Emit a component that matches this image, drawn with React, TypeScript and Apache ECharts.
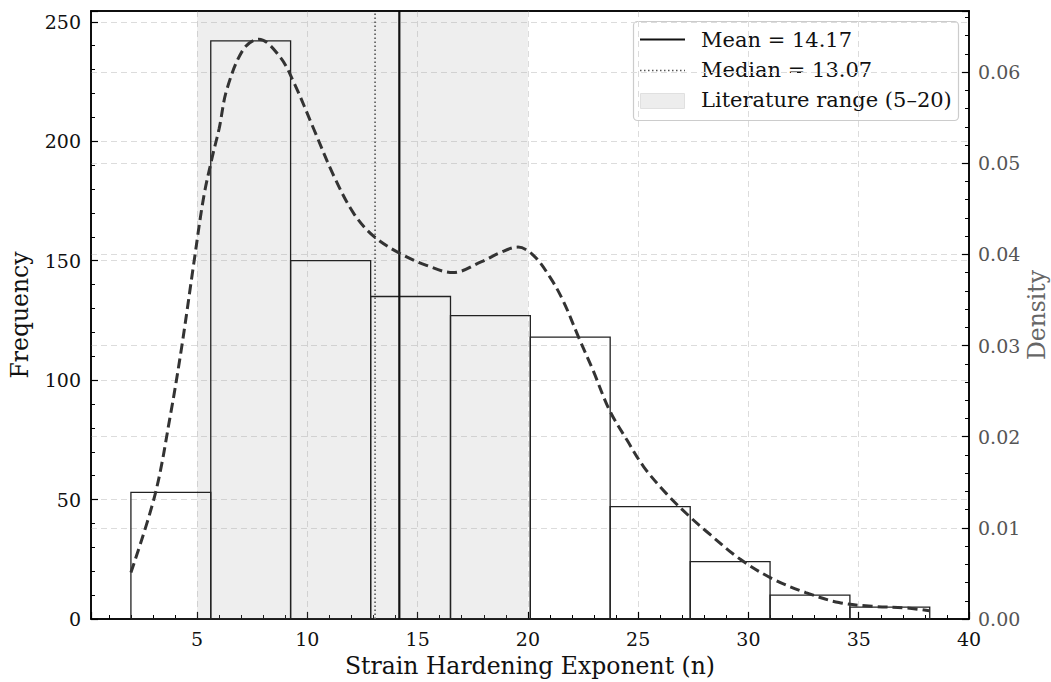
import React, { useEffect, useRef } from "react";
import * as echarts from "echarts";

const binEdges = [2.0, 5.62, 9.24, 12.87, 16.49, 20.11, 23.73, 27.36, 30.98, 34.6, 38.22];
const counts = [53, 242, 150, 135, 127, 118, 47, 24, 10, 5];

const kdeX = [2.0, 3.1, 3.8, 4.3, 4.85, 5.3, 5.7, 6.0, 6.35, 7.1, 7.8, 8.75, 9.4, 10.3, 11.2, 12.1, 13.0, 14.2, 15.4, 16.6, 17.9, 18.75, 19.55, 20.25, 21.0, 21.6, 22.3, 22.95, 23.7, 24.5, 25.25, 26.3, 27.35, 28.1, 29.6, 31.1, 32.6, 34.1, 35.6, 37.2, 38.2];
const kdeY = [0.0051, 0.0137, 0.0225, 0.0298, 0.039, 0.0463, 0.0508, 0.0538, 0.0581, 0.0625, 0.0636, 0.0617, 0.0588, 0.0537, 0.0486, 0.0445, 0.042, 0.0401, 0.0388, 0.038, 0.0392, 0.0402, 0.0408, 0.0399, 0.0375, 0.0349, 0.0309, 0.0273, 0.0229, 0.0196, 0.0167, 0.0137, 0.0112, 0.0096, 0.0066, 0.0044, 0.0029, 0.0018, 0.0014, 0.0012, 0.0009];

const meanValue = 14.17;
const medianValue = 13.07;
const litRange = [5, 20];

const xTickLabels = [5, 10, 15, 20, 25, 30, 35, 40];

const FONT = "DejaVu Serif";

export default function App() {
  const ref = useRef<HTMLDivElement>(null);
  useEffect(() => {
    if (!ref.current) return;
    const chart = echarts.init(ref.current, null, { renderer: "svg" });
    const yMax = 254.5;
    const dMax = 0.0667;
    const gridStyle = { color: "#dcdcdc", type: [6, 4] as any, width: 1 };
    const tickFont = 19;
    const option: any = {
      animation: false,
      backgroundColor: "#ffffff",
      grid: {
        left: 91,
        right: 82,
        top: 11,
        bottom: 63,
        show: true,
        borderColor: "#000",
        borderWidth: 1.5,
        backgroundColor: "transparent",
      },
      xAxis: {
        type: "value",
        min: 0.19,
        max: 40,
        minInterval: 5,
        maxInterval: 5,
        splitNumber: 8,
        axisLine: { show: true, lineStyle: { color: "#000", width: 1.5 } },
        axisTick: { show: true, inside: true, length: 7, lineStyle: { color: "#000", width: 1.2 } },
        minorTick: { show: true, splitNumber: 5, length: 4, lineStyle: { color: "#000", width: 1 } },
        splitLine: { show: true, showMinLine: false, showMaxLine: false, lineStyle: gridStyle },
        axisLabel: {
          fontFamily: FONT,
          fontSize: tickFont,
          color: "#111",
          margin: 10,
          formatter: (v: number) => (xTickLabels.some((t) => Math.abs(t - v) < 1e-6) ? String(Math.round(v)) : ""),
        },
      },
      yAxis: [
        {
          type: "value",
          min: 0,
          max: yMax,
          interval: 50,
          position: "left",
          axisLine: { show: true, lineStyle: { color: "#000", width: 1.5 } },
          axisTick: { show: true, inside: true, length: 7, lineStyle: { color: "#000", width: 1.2 } },
          minorTick: { show: true, splitNumber: 5, length: 4, lineStyle: { color: "#000", width: 1 } },
          splitLine: { show: true, showMinLine: false, showMaxLine: false, lineStyle: gridStyle },
          axisLabel: {
            fontFamily: FONT,
            fontSize: tickFont,
            color: "#111",
            margin: 10,
            formatter: (v: number) => (Math.abs(v / 50 - Math.round(v / 50)) < 1e-6 ? String(Math.round(v)) : ""),
          },
        },
        {
          type: "value",
          min: 0,
          max: dMax,
          interval: 0.01,
          position: "right",
          axisLine: { show: true, lineStyle: { color: "#000", width: 1.5 } },
          axisTick: { show: true, inside: true, length: 7, lineStyle: { color: "#000", width: 1.2 } },
          minorTick: { show: true, splitNumber: 5, length: 4, lineStyle: { color: "#000", width: 1 } },
          splitLine: { show: true, showMinLine: false, showMaxLine: false, lineStyle: gridStyle },
          axisLabel: {
            fontFamily: FONT,
            fontSize: tickFont,
            color: "#555",
            margin: 9,
            formatter: (v: number) => (Math.abs(v * 100 - Math.round(v * 100)) < 1e-6 ? v.toFixed(2) : ""),
          },
        },
      ],
      series: [
        {
          type: "line",
          name: "lit",
          data: [[litRange[0], 0], [litRange[1], 0]],
          symbol: "none",
          lineStyle: { opacity: 0 },
          silent: true,
          z: 1,
          markArea: {
            silent: true,
            itemStyle: { color: "rgba(160,160,160,0.18)" },
            data: [[{ xAxis: litRange[0] }, { xAxis: litRange[1] }]],
          },
        },
        {
          type: "custom",
          name: "hist",
          data: counts.map((c, i) => [binEdges[i], binEdges[i + 1], c]),
          encode: { x: [0, 1], y: 2 },
          z: 3,
          renderItem: (params: any, api: any) => {
            const p0 = api.coord([api.value(0), api.value(2)]);
            const p1 = api.coord([api.value(1), 0]);
            return {
              type: "rect",
              shape: { x: p0[0], y: p0[1], width: p1[0] - p0[0], height: p1[1] - p0[1] },
              style: { fill: "none", stroke: "#222", lineWidth: 1.3 },
            };
          },
        },
        {
          type: "line",
          name: "median",
          data: [[medianValue, 0], [medianValue, yMax]],
          symbol: "none",
          z: 4,
          lineStyle: { color: "#555", width: 1.6, type: [1.5, 2.5] },
        },
        {
          type: "line",
          name: "mean",
          data: [[meanValue, 0], [meanValue, yMax]],
          symbol: "none",
          z: 4,
          lineStyle: { color: "#111", width: 2.2, type: "solid" },
        },
        {
          type: "line",
          name: "kde",
          yAxisIndex: 1,
          data: kdeX.map((x, i) => [x, kdeY[i]]),
          symbol: "none",
          smooth: 0.35,
          z: 5,
          lineStyle: { color: "#333", width: 3, type: [10, 5] },
        },
      ],
      graphic: [
        {
          type: "line",
          z: 50,
          shape: { x1: 90.25, y1: 11, x2: 969.75, y2: 11 },
          style: { stroke: "#000", lineWidth: 1.5 },
        },
        {
          type: "text",
          x: 20,
          y: 315,
          rotation: Math.PI / 2,
          style: { text: "Frequency", font: `23.5px '${FONT}'`, fill: "#111", align: "center", verticalAlign: "middle" },
        },
        {
          type: "text",
          x: 1037,
          y: 315,
          rotation: Math.PI / 2,
          style: { text: "Density", font: `23.5px '${FONT}'`, fill: "#666", align: "center", verticalAlign: "middle" },
        },
        {
          type: "text",
          x: 530,
          y: 666,
          style: { text: "Strain Hardening Exponent (n)", font: `23.5px '${FONT}'`, fill: "#111", align: "center", verticalAlign: "middle" },
        },
        {
          type: "group",
          z: 100,
          children: [
            {
              type: "rect",
              shape: { x: 633.5, y: 21.5, width: 325, height: 99, r: 4 },
              style: { fill: "rgba(255,255,255,0.8)", stroke: "#cccccc", lineWidth: 1.2 },
            },
            {
              type: "line",
              shape: { x1: 640, y1: 39.5, x2: 685, y2: 39.5 },
              style: { stroke: "#111", lineWidth: 2.2 },
            },
            {
              type: "text",
              x: 701,
              y: 40,
              style: { text: "Mean = " + meanValue.toFixed(2), font: `21px '${FONT}'`, fill: "#111", verticalAlign: "middle" },
            },
            {
              type: "line",
              shape: { x1: 640, y1: 70.5, x2: 685, y2: 70.5 },
              style: { stroke: "#555", lineWidth: 1.6, lineDash: [1.5, 2.5] },
            },
            {
              type: "text",
              x: 701,
              y: 70,
              style: { text: "Median = " + medianValue.toFixed(2), font: `21px '${FONT}'`, fill: "#111", verticalAlign: "middle" },
            },
            {
              type: "rect",
              shape: { x: 640.5, y: 93.5, width: 44, height: 15 },
              style: { fill: "#ededed", stroke: "#e0e0e0", lineWidth: 1 },
            },
            {
              type: "text",
              x: 701,
              y: 100,
              style: { text: `Literature range (${litRange[0]}\u2013${litRange[1]})`, font: `21px '${FONT}'`, fill: "#111", verticalAlign: "middle" },
            },
          ],
        },
      ],
    };
    chart.setOption(option);
    return () => chart.dispose();
  }, []);
  return <div ref={ref} style={{ position: "absolute", left: 0, top: 0, width: 1051, height: 682 }} />;
}
